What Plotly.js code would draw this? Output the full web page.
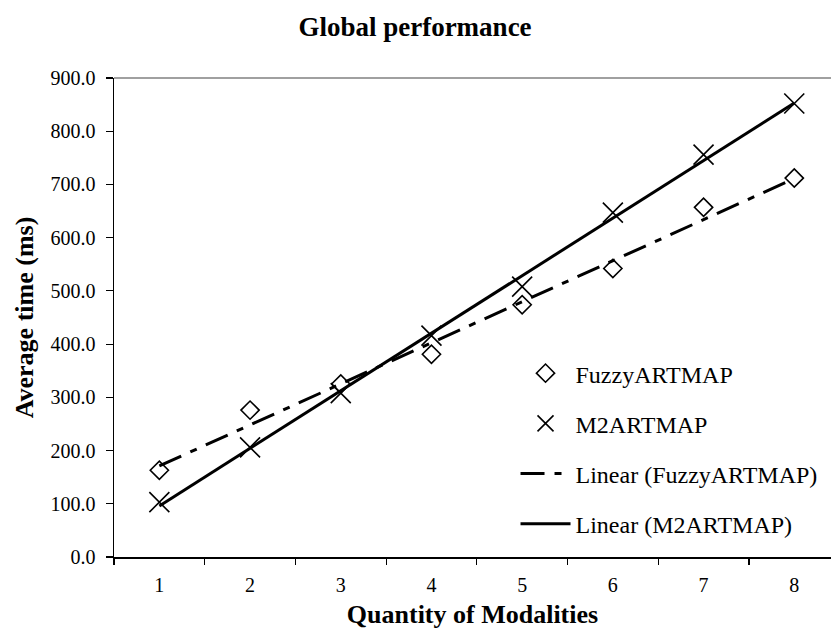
<!DOCTYPE html>
<html>
<head>
<meta charset="utf-8">
<script src="https://cdn.plot.ly/plotly-3.0.1.min.js"></script>
<style>html,body{margin:0;padding:0;background:#fff;overflow:hidden;}#chart{width:831px;height:630px;}</style>
</head>
<body>
<div id="chart"></div>
<script>
// Data
var categories = ['1', '2', '3', '4', '5', '6', '7', '8'];
var fuzzyValues = [163, 276, 325, 381, 474, 542, 657, 712];
var m2Values = [103, 206, 308, 416, 508, 647, 756, 852];
// Trend-line values read at each category
var fuzzyTrend = [171, 248, 325, 402, 480, 557, 634, 711];
var m2Trend = [96, 204, 312, 420, 528, 636, 745, 853];
var yTicks = [0, 100, 200, 300, 400, 500, 600, 700, 800, 900];

var serif = '"Liberation Serif", "Times New Roman", Times, serif';

var traces = [
  {
    x: categories, y: fuzzyValues, name: 'FuzzyARTMAP', type: 'scatter', mode: 'markers',
    legendgroup: 'a',
    marker: {symbol: 'diamond-open', size: 14, color: '#000', line: {color: '#000', width: 1.6}}
  },
  {
    x: categories, y: m2Values, name: 'M2ARTMAP', type: 'scatter', mode: 'markers',
    legendgroup: 'b',
    marker: {symbol: 'x-thin-open', size: 20, color: '#000', line: {color: '#000', width: 1.6}}
  },
  {
    x: categories, y: fuzzyTrend, name: 'Linear (FuzzyARTMAP)', type: 'scatter', mode: 'lines',
    legendgroup: 'c',
    line: {color: '#000', width: 3, dash: '24px,10px,7px,10px'}
  },
  {
    x: categories, y: m2Trend, name: 'Linear (M2ARTMAP)', type: 'scatter', mode: 'lines',
    legendgroup: 'd',
    line: {color: '#000', width: 3}
  }
];

var layout = {
  width: 831, height: 630,
  margin: {l: 114, r: 0, t: 78, b: 73, pad: 0},
  paper_bgcolor: '#fff', plot_bgcolor: '#fff',
  font: {family: serif, color: '#000', size: 20},
  title: {
    text: 'Global performance',
    font: {family: serif, size: 27, weight: 'bold', color: '#000'},
    x: 415 / 831, xref: 'container', xanchor: 'center',
    y: 1 - 27 / 630, yref: 'container', yanchor: 'middle'
  },
  xaxis: {
    type: 'category',
    range: [-0.5, 7.405],
    showgrid: false, zeroline: false,
    showline: true, linecolor: '#000', linewidth: 1.5,
    ticks: 'outside', tickson: 'boundaries', ticklen: 6, tickcolor: '#000', tickwidth: 1.2,
    tickfont: {family: serif, size: 20, color: '#000'},
    ticklabelstandoff: 9,
    title: {text: 'Quantity of Modalities', font: {family: serif, size: 26, weight: 'bold', color: '#000'}, standoff: 10},
    fixedrange: true
  },
  yaxis: {
    range: [0, 900],
    tickvals: yTicks,
    tickformat: '.1f',
    showgrid: false, zeroline: false,
    showline: true, linecolor: '#000', linewidth: 1.5,
    ticks: 'outside', ticklen: 7, tickcolor: '#000', tickwidth: 1.2,
    tickfont: {family: serif, size: 20, color: '#000'},
    ticklabelstandoff: 6,
    title: {text: 'Average time (ms)', font: {family: serif, size: 26, weight: 'bold', color: '#000'}, standoff: 9},
    fixedrange: true
  },
  showlegend: true,
  legend: {
    x: 0.56, xanchor: 'left',
    y: 0.43, yanchor: 'top',
    bgcolor: 'rgba(0,0,0,0)',
    font: {family: serif, size: 24, color: '#000'},
    tracegroupgap: 16,
    itemwidth: 50
  },
  shapes: [
    {type: 'line', xref: 'paper', yref: 'paper', x0: 0, x1: 1, y0: 1, y1: 1,
     line: {color: '#808080', width: 1.5}}
  ]
};

Plotly.newPlot('chart', traces, layout, {displayModeBar: false, staticPlot: true});
</script>
</body>
</html>
